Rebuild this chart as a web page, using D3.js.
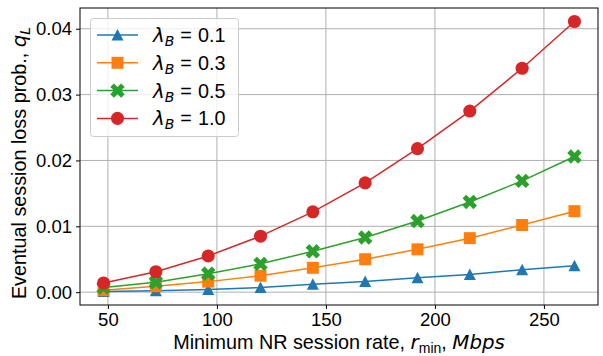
<!DOCTYPE html>
<html><head><meta charset="utf-8">
<script src="https://cdn.jsdelivr.net/npm/d3@7"></script>
<style>body{margin:0;background:#fff}svg{display:block}text{font-family:"Liberation Sans",Arial,sans-serif}</style>
</head><body><svg id="c" width="603" height="356"></svg>
<script>
const rMin = [48, 72, 96, 120, 144, 168, 192, 216, 240, 264];
const lambda01 = [0.0001, 0.0002, 0.0004, 0.0007, 0.0012, 0.0016, 0.0022, 0.0027, 0.0034, 0.0040];
const lambda03 = [0.0003, 0.0009, 0.0016, 0.0025, 0.0037, 0.0050, 0.0065, 0.0082, 0.0102, 0.0123];
const lambda05 = [0.0007, 0.0015, 0.0028, 0.0043, 0.0062, 0.0083, 0.0108, 0.0137, 0.0169, 0.0206];
const lambda10 = [0.0014, 0.0031, 0.0055, 0.0085, 0.0122, 0.0166, 0.0218, 0.0275, 0.0340, 0.0411];
const seriesLabels = ["0.1", "0.3", "0.5", "1.0"];
const xTicks = [50, 100, 150, 200, 250];
const yTicks = [0.00, 0.01, 0.02, 0.03, 0.04];

const colors = ["#1f77b4", "#ff7f0e", "#2ca02c", "#d62728"];
const markers = ["tri", "sq", "x", "circ"];
const series = [lambda01, lambda03, lambda05, lambda10].map((v, i) => ({label: seriesLabels[i], values: v, color: colors[i], marker: markers[i]}));

const FS = 18.5, LFS = 19.8, SUB = 14;
const W = 603, H = 356, m = {l: 80, r: 5, t: 8, b: 51};
const svg = d3.select("#c");
const xmin = d3.min(rMin), xmax = d3.max(rMin), xp = (xmax - xmin) * 0.05;
const all = series.flatMap(s => s.values);
const ymin = d3.min(all), ymax = d3.max(all), yp = (ymax - ymin) * 0.05;
const x = d3.scaleLinear().domain([xmin - xp, xmax + xp]).range([m.l, W - m.r]);
const y = d3.scaleLinear().domain([ymin - yp, ymax + yp]).range([H - m.b, m.t]);

// grid
const g = svg.append("g");
g.selectAll(".gx").data(xTicks).join("line").attr("x1", d => x(d)).attr("x2", d => x(d))
  .attr("y1", m.t).attr("y2", H - m.b).attr("stroke", "#b0b0b0").attr("stroke-width", 1);
g.selectAll(".gy").data(yTicks).join("line").attr("y1", d => y(d)).attr("y2", d => y(d))
  .attr("x1", m.l).attr("x2", W - m.r).attr("stroke", "#b0b0b0").attr("stroke-width", 1);

// axes
const xa = svg.append("g").attr("transform", `translate(0,${H - m.b})`)
  .call(d3.axisBottom(x).tickValues(xTicks).tickSize(4).tickPadding(4).tickFormat(d3.format("d")));
const ya = svg.append("g").attr("transform", `translate(${m.l},0)`)
  .call(d3.axisLeft(y).tickValues(yTicks).tickSize(4).tickPadding(4).tickFormat(d3.format(".2f")));
[xa, ya].forEach(a => {
  a.select(".domain").remove();
  a.selectAll("text").attr("font-size", FS).attr("fill", "#000").attr("font-family", "Liberation Sans, Arial, sans-serif");
  a.selectAll("line").attr("stroke", "#000");
});

function markerPath(type) {
  if (type === "tri") return "M0,-6L-6,5.5L6,5.5Z";
  if (type === "sq") return "M-6,-6H6V6H-6Z";
  if (type === "x") return d3.symbol(d3.symbolCross, 130)();
  return d3.symbol(d3.symbolCircle, 135)();
}

const line = d3.line().x((d, i) => x(rMin[i])).y(d => y(d));
const plot = svg.append("g");
series.forEach(s => {
  plot.append("path").attr("d", line(s.values)).attr("fill", "none").attr("stroke", s.color).attr("stroke-width", 1.5);
  plot.selectAll(null).data(s.values).join("path")
    .attr("d", markerPath(s.marker))
    .attr("transform", (d, i) => `translate(${x(rMin[i])},${y(d)})` + (s.marker === "x" ? " rotate(45)" : ""))
    .attr("fill", s.color);
});

// frame
svg.append("rect").attr("x", m.l).attr("y", m.t).attr("width", W - m.l - m.r).attr("height", H - m.t - m.b)
  .attr("fill", "none").attr("stroke", "#000").attr("stroke-width", 1);

// legend
const lg = svg.append("g");
lg.append("rect").attr("x", 90.5).attr("y", 18.5).attr("width", 148).attr("height", 118).attr("rx", 3)
  .attr("fill", "#fff").attr("fill-opacity", 0.8).attr("stroke", "#cccccc");
series.forEach((s, i) => {
  const yy = 35 + i * 27.8;
  lg.append("line").attr("x1", 97).attr("x2", 138).attr("y1", yy).attr("y2", yy).attr("stroke", s.color).attr("stroke-width", 1.5);
  lg.append("path").attr("d", markerPath(s.marker))
    .attr("transform", `translate(117.5,${yy})` + (s.marker === "x" ? " rotate(45)" : "")).attr("fill", s.color);
  const t = lg.append("text").attr("x", 153).attr("y", yy + 7).attr("font-size", LFS);
  t.append("tspan").attr("font-style", "italic").attr("font-family", "DejaVu Sans").text("λ");
  t.append("tspan").attr("font-style", "italic").attr("font-family", "DejaVu Sans").attr("font-size", SUB).attr("dy", 4).text("B");
  t.append("tspan").attr("dy", -4).attr("dx", 6).text("=");
  t.append("tspan").attr("dx", 6).text(s.label);
});

// axis labels
const xl = svg.append("text").attr("x", (m.l + W - m.r) / 2).attr("y", 349).attr("text-anchor", "middle").attr("font-size", LFS);
xl.append("tspan").text("Minimum NR session rate, ");
xl.append("tspan").attr("font-style", "italic").attr("font-family", "DejaVu Sans").text("r");
xl.append("tspan").attr("font-size", SUB).attr("dy", 4).text("min");
xl.append("tspan").attr("dy", -4).text(", ");
xl.append("tspan").attr("font-style", "italic").attr("font-family", "DejaVu Sans").text("Mbps");

const yl = svg.append("text").attr("transform", `translate(26,163) rotate(-90)`)
  .attr("text-anchor", "middle").attr("font-size", LFS);
yl.append("tspan").text("Eventual session loss prob., ");
yl.append("tspan").attr("font-style", "italic").attr("font-family", "DejaVu Sans").text("q");
yl.append("tspan").attr("font-style", "italic").attr("font-family", "DejaVu Sans").attr("font-size", SUB).attr("dy", 4).text("L");
</script></body></html>
